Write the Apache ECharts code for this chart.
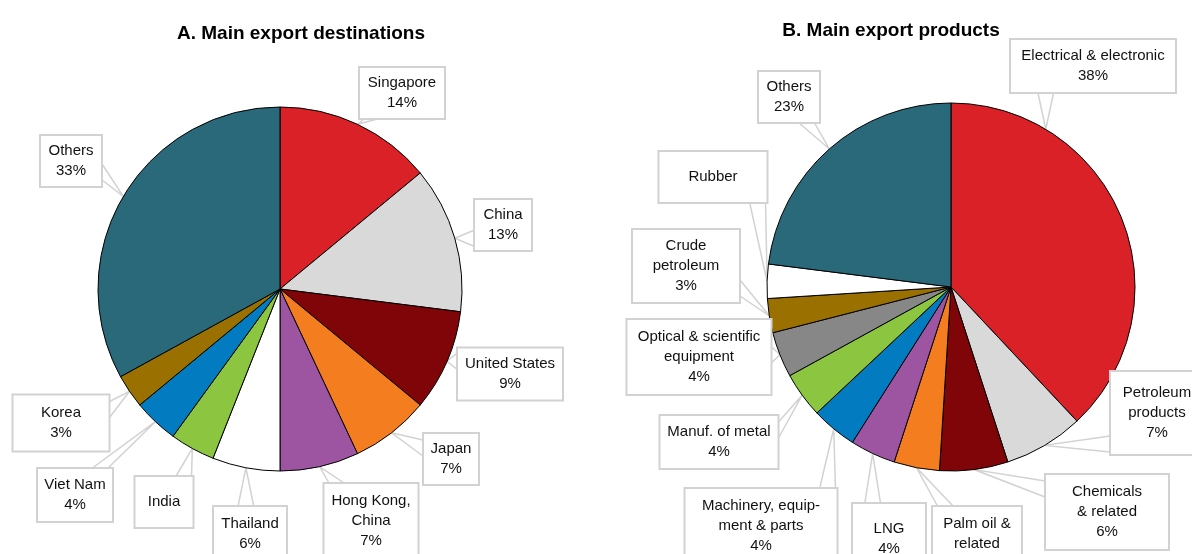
<!DOCTYPE html>
<html>
<head>
<meta charset="utf-8">
<script src="https://cdn.jsdelivr.net/npm/echarts@6/dist/echarts.min.js"></script>
<style>
  html, body { margin: 0; padding: 0; background: #fff; }
  #main { width: 1192px; height: 554px; }
</style>
</head>
<body>
<div id="main"></div>
<script>
// panel A - destinations
var destNames = ['Singapore', 'China', 'United States', 'Japan', 'Hong Kong,\nChina', 'Thailand', 'India', 'Viet Nam', 'Korea', 'Others'];
var destValues = [14, 13, 9, 7, 7, 6, 4, 4, 3, 33];
var destShowPct = [1, 1, 1, 1, 1, 1, 0, 1, 1, 1];

// panel B - products
var prodNames = ['Electrical & electronic', 'Petroleum\nproducts', 'Chemicals\n& related', 'Palm oil &\nrelated', 'LNG', 'Machinery, equip-\nment & parts', 'Manuf. of metal', 'Optical & scientific\nequipment', 'Crude\npetroleum', 'Rubber', 'Others'];
var prodValues = [38, 7, 6, 4, 4, 4, 4, 4, 3, 3, 23];
var prodShowPct = [1, 1, 1, 1, 1, 1, 1, 1, 1, 0, 1];

var destColors = ['#da2128', '#d9d9d9', '#7f0508', '#f47d20', '#9e55a1', '#ffffff', '#8cc641', '#037bc1', '#9a7100', '#29697a'];
var prodColors = ['#da2128', '#d9d9d9', '#7f0508', '#f47d20', '#9e55a1', '#037bc1', '#8cc641', '#878787', '#9a7100', '#ffffff', '#29697a'];

// callout boxes: [centerX, centerY, width, height, pointer angle (deg from top, optional)]
var destBoxes = [
  [402, 93, 86, 50], [503, 225, 58, 50], [510, 374, 106, 51], [451, 459, 56, 50],
  [371, 521, 95, 74], [250, 534, 74, 54], [164, 502, 59, 50], [75, 495, 76, 52],
  [61, 423, 97, 55], [71, 161, 62, 50]
];
var prodBoxes = [
  [1093, 66, 166, 52, 31], [1157, 413, 94, 82], [1107, 512, 124, 74], [977, 544, 90, 74],
  [889, 539, 74, 70], [761, 526, 153, 74], [719, 442, 119, 52], [699, 357, 145, 74],
  [686, 266, 108, 72], [713, 177, 109, 50], [789, 97, 62, 50]
];
var boxLayout = [destBoxes, prodBoxes];
var pieGeom = [[280, 289, 182], [951, 287, 184]];

var FONT = "'Liberation Sans', Arial, sans-serif";
var LH = 20;

function buildData(names, values, showPct, colors, boxes) {
  var out = [];
  for (var i = 0; i < names.length; i++) {
    var txt = names[i] + (showPct[i] ? '\n' + values[i] + '%' : '');
    var lines = txt.split('\n').length;
    var b = boxes[i];
    var pv = Math.max(0, (b[3] - lines * LH) / 2);
    out.push({
      name: names[i],
      value: values[i],
      itemStyle: { color: colors[i] },
      label: {
        formatter: txt,
        width: b[2] - 2,
        overflow: 'none',
        padding: [pv, 0, pv, 0]
      }
    });
  }
  return out;
}

// speech-bubble style pointer: two lines from the pie edge to the box edge
function makeLayout(params) {
  var b = boxLayout[params.seriesIndex][params.dataIndex];
  var pts = params.labelLinePoints;
  var res = { x: b[0], y: b[1], align: 'center', verticalAlign: 'middle' };
  if (!pts || !pts.length) return res;
  var tx = pts[0][0], ty = pts[0][1];
  if (b[4] != null) {
    var g = pieGeom[params.seriesIndex];
    var a = b[4] * Math.PI / 180;
    tx = g[0] + g[2] * Math.sin(a);
    ty = g[1] - g[2] * Math.cos(a);
  }
  var l = b[0] - b[2] / 2, r = b[0] + b[2] / 2, t = b[1] - b[3] / 2, bt = b[1] + b[3] / 2;
  var hw = 8;
  var ox = tx < l ? l - tx : (tx > r ? tx - r : 0);
  var oy = ty < t ? t - ty : (ty > bt ? ty - bt : 0);
  var b1, b2;
  if (oy >= ox) {
    var ey = ty < t ? t : bt;
    var cx;
    if (ox > 0) {
      cx = tx < l ? l + 6 + hw : r - 6 - hw;
    } else {
      cx = Math.min(Math.max(tx, l + hw + 2), r - hw - 2);
    }
    b1 = [cx - hw, ey]; b2 = [cx + hw, ey];
  } else {
    var ex = tx < l ? l : r;
    var cy;
    if (oy > 0) {
      cy = ty < t ? t + 6 + hw : bt - 6 - hw;
    } else {
      cy = Math.min(Math.max(ty, t + hw + 2), bt - hw - 2);
    }
    b1 = [ex, cy - hw]; b2 = [ex, cy + hw];
  }
  res.labelLinePoints = [b1, [tx, ty], b2];
  return res;
}

var pieLabel = {
  show: true,
  position: 'outside',
  color: '#111',
  fontFamily: FONT,
  fontSize: 15,
  lineHeight: LH,
  align: 'center',
  backgroundColor: '#fff',
  borderColor: '#d2d2d2',
  borderWidth: 2
};
var pieLabelLine = { show: true, length: 10, length2: 10, lineStyle: { color: '#d2d2d2', width: 1.5 } };

var chart = echarts.init(document.getElementById('main'), null, { renderer: 'canvas' });
chart.setOption({
  animation: false,
  backgroundColor: '#fff',
  title: [
    {
      text: 'A. Main export destinations',
      left: 296, top: 19, textAlign: 'center',
      textStyle: { fontFamily: FONT, fontSize: 19, fontWeight: 'bold', color: '#000' }
    },
    {
      text: 'B. Main export products',
      left: 886, top: 16, textAlign: 'center',
      textStyle: { fontFamily: FONT, fontSize: 19, fontWeight: 'bold', color: '#000' }
    }
  ],
  series: [
    {
      type: 'pie',
      center: [pieGeom[0][0], pieGeom[0][1]],
      radius: pieGeom[0][2],
      startAngle: 90,
      clockwise: true,
      avoidLabelOverlap: false,
      itemStyle: { borderColor: '#000', borderWidth: 1 },
      label: pieLabel,
      labelLine: pieLabelLine,
      labelLayout: makeLayout,
      emphasis: { disabled: true },
      data: buildData(destNames, destValues, destShowPct, destColors, destBoxes)
    },
    {
      type: 'pie',
      center: [pieGeom[1][0], pieGeom[1][1]],
      radius: pieGeom[1][2],
      startAngle: 90,
      clockwise: true,
      avoidLabelOverlap: false,
      itemStyle: { borderColor: '#000', borderWidth: 1 },
      label: pieLabel,
      labelLine: pieLabelLine,
      labelLayout: makeLayout,
      emphasis: { disabled: true },
      data: buildData(prodNames, prodValues, prodShowPct, prodColors, prodBoxes)
    }
  ]
});
</script>
</body>
</html>
